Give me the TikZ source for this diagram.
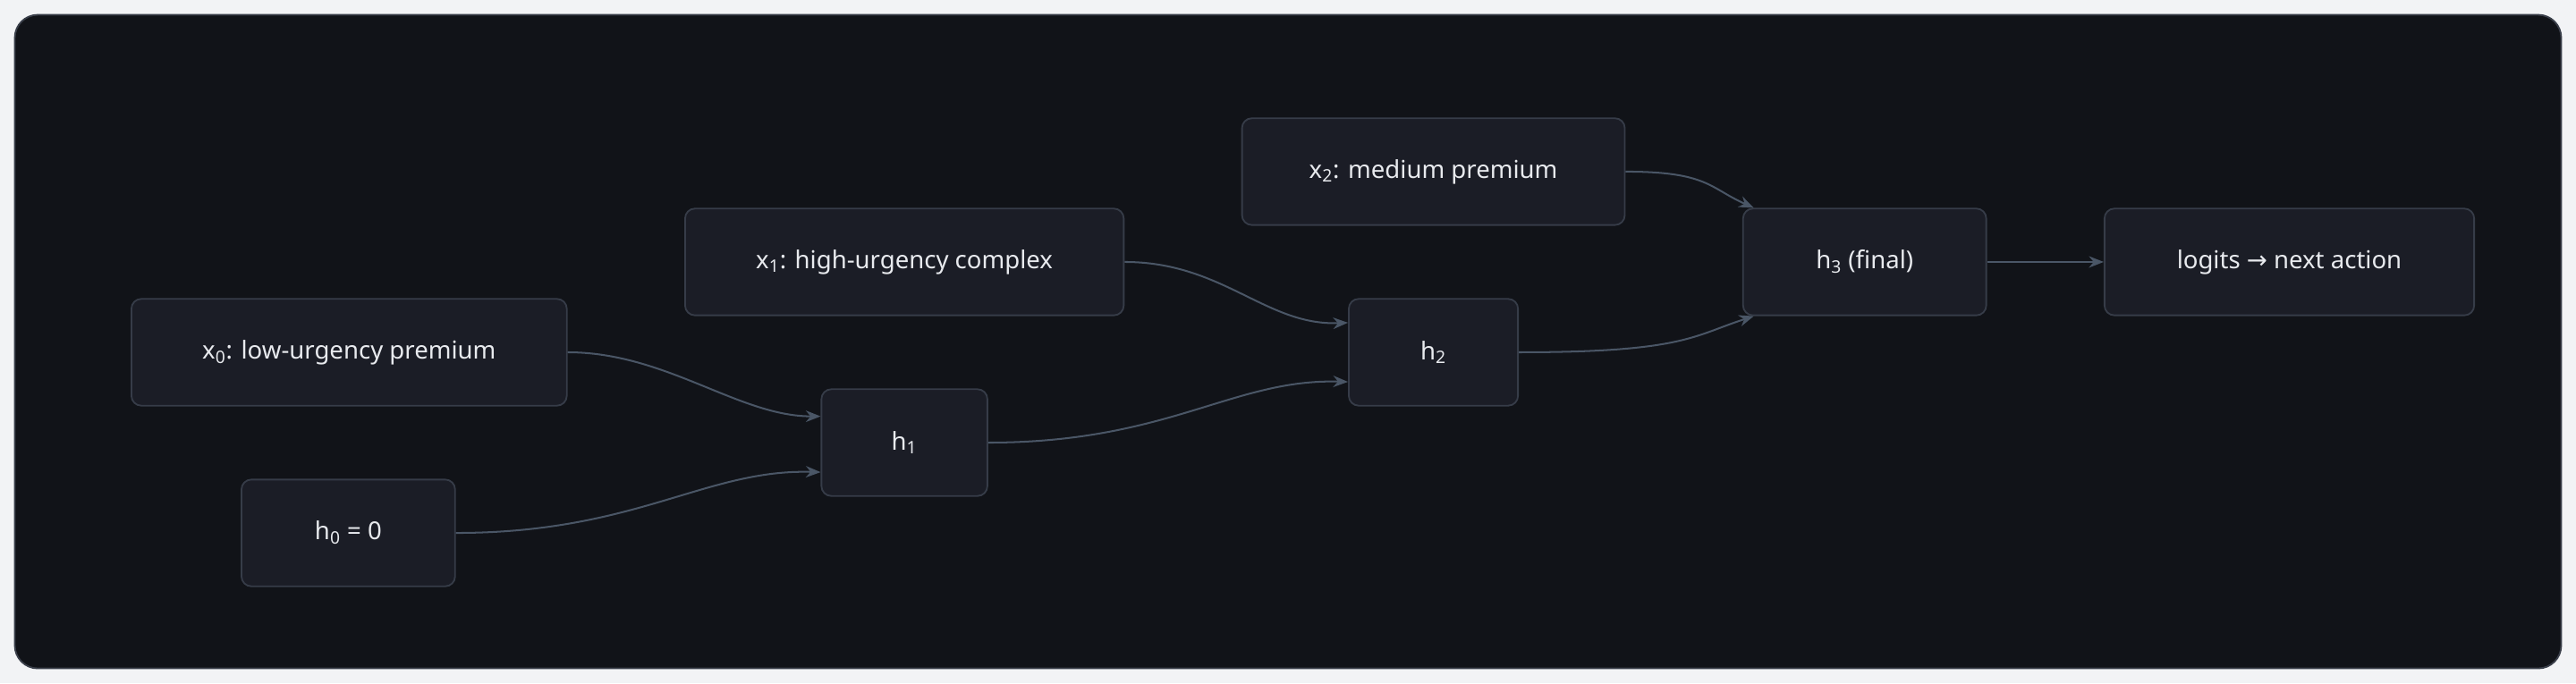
\documentclass[tikz,border=0pt]{standalone}
\usepackage{fontspec}
\setmainfont{Noto Sans}
\newfontfamily\dejavu{DejaVu Sans}
\usetikzlibrary{calc,arrows.meta}
\definecolor{pagebg}{HTML}{F2F3F5}
\definecolor{panel}{HTML}{111318}
\definecolor{panelborder}{HTML}{3A3F4A}
\definecolor{nodefill}{HTML}{1B1D26}
\definecolor{nodeborder}{HTML}{363C48}
\definecolor{edge}{HTML}{4A5666}
\definecolor{txt}{HTML}{E8EAEE}
\begin{document}
\begin{tikzpicture}[x=1pt,y=-1pt,
  box/.style={draw=nodeborder,fill=nodefill,rounded corners=6pt,line width=1pt,text=txt,font=\fontsize{15}{18}\selectfont,inner sep=0pt},
  conn/.style={draw=edge,line width=1.1pt,-{Stealth[length=9pt,width=7pt]}}]
\useasboundingbox (0,0) rectangle (1568,416);
\fill[pagebg] (0,0) rectangle (1568,416);
\draw[fill=panel,draw=panelborder,line width=1pt,rounded corners=14pt] (9,9) rectangle (1559,407);
\node[box,minimum width=265pt,minimum height=65pt] (x0) at (212.5,214.5) {x\textsubscript{0}: low-urgency premium};
\node[box,minimum width=130pt,minimum height=65pt] (h0) at (212,324.5) {h\textsubscript{0} = 0};
\node[box,minimum width=267pt,minimum height=65pt] (x1) at (550.5,159.5) {x\textsubscript{1}: high-urgency complex};
\node[box,minimum width=101pt,minimum height=65pt] (h1) at (550.5,269.5) {h\textsubscript{1}};
\node[box,minimum width=233pt,minimum height=65pt] (x2) at (872.5,104.5) {x\textsubscript{2}: medium premium};
\node[box,minimum width=103pt,minimum height=65pt] (h2) at (872.5,214.5) {h\textsubscript{2}};
\node[box,minimum width=148pt,minimum height=65pt] (h3) at (1135,159.5) {h\textsubscript{3} (final)};
\node[box,minimum width=225pt,minimum height=65pt] (lg) at (1393.5,159.5) {logits {\dejavu →} next action};
\draw[conn] (x0.east) .. controls +(60,0) and ($(h1.west)+(-50,-16)$) .. ($(h1.west)+(0,-16)$);
\draw[conn] (h0.east) .. controls +(110,0) and ($(h1.west)+(-70,16)$) .. ($(h1.west)+(0,18)$);
\draw[conn] (x1.east) .. controls +(60,0) and ($(h2.west)+(-50,-16)$) .. ($(h2.west)+(0,-18)$);
\draw[conn] (h1.east) .. controls +(110,0) and ($(h2.west)+(-70,16)$) .. ($(h2.west)+(0,18)$);
\draw[conn] (x2.east) .. controls +(50,0) and ($(h3.north west)+(-20,-12)$) .. ($(h3.north west)+(7,0)$);
\draw[conn] (h2.east) .. controls +(100,0) and ($(h3.south west)+(-30,12)$) .. ($(h3.south west)+(7,0)$);
\draw[conn] (h3.east) -- (lg.west);
\end{tikzpicture}
\end{document}
